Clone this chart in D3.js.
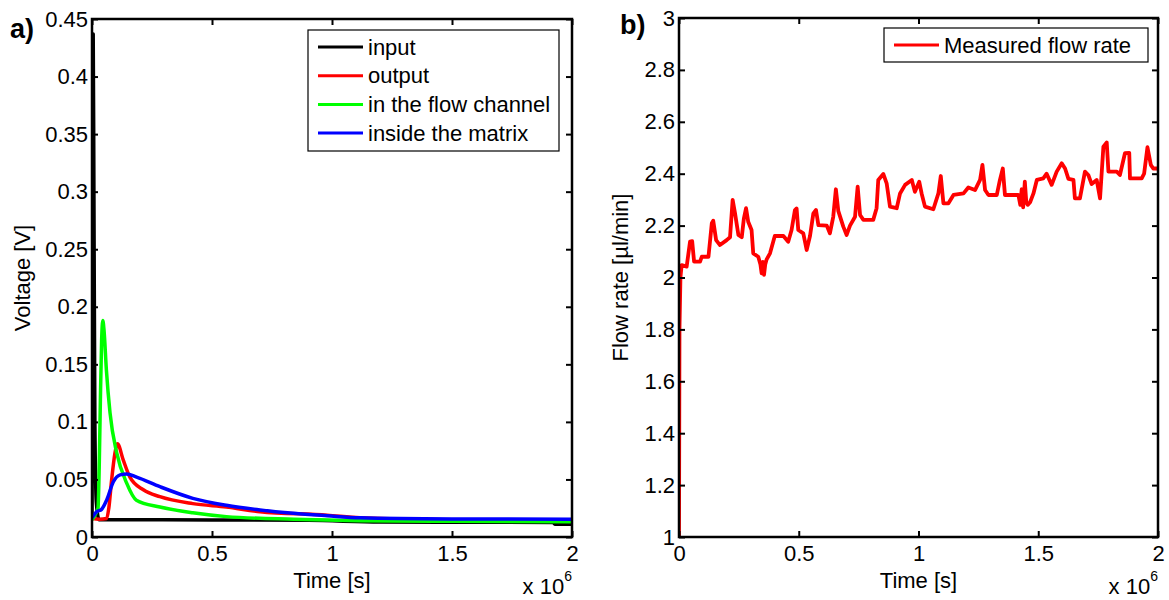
<!DOCTYPE html>
<html>
<head>
<meta charset="utf-8">
<script src="https://cdn.jsdelivr.net/npm/d3@7"></script>
<style>
  body { margin: 0; background: #fff; }
  svg { display: block; font-family: "Liberation Sans", Arial, sans-serif; }
</style>
</head>
<body>
<svg id="chart" width="1169" height="600"></svg>
<script>
// ---- data (time in units of 10^6 s) ----
var inputPts = [[0,0.015],[0.003,0.2],[0.005,0.437],[0.008,0.3],[0.012,0.1],[0.018,0.03],[0.03,0.015],
  [0.5,0.0148],[0.9,0.0145],[1.2,0.013],[1.6,0.0128],[1.92,0.0126],[1.93,0.011],[2,0.011]];
var outputPts = [[0,0.016],[0.03,0.0155],[0.061,0.016],[0.07,0.025],[0.082,0.05],[0.095,0.072],[0.106,0.081],
  [0.13,0.067],[0.158,0.052],[0.214,0.041],[0.283,0.035],[0.42,0.029],[0.56,0.026],[0.7,0.022],
  [0.98,0.019],[1.117,0.0167],[1.5,0.015],[2,0.014]];
var channelPts = [[0,0.015],[0.015,0.02],[0.025,0.025],[0.03,0.06],[0.035,0.12],[0.04,0.17],[0.045,0.188],
  [0.05,0.18],[0.06,0.145],[0.075,0.108],[0.103,0.073],[0.144,0.047],[0.185,0.032],[0.283,0.026],
  [0.42,0.021],[0.56,0.0177],[0.84,0.0154],[1.117,0.0142],[1.5,0.0136],[2,0.0133]];
var matrixPts = [[0,0.0167],[0.02,0.022],[0.04,0.024],[0.061,0.032],[0.089,0.048],[0.117,0.054],
  [0.144,0.0547],[0.186,0.052],[0.283,0.0437],[0.42,0.0336],[0.56,0.0275],[0.7,0.0235],
  [0.84,0.0206],[0.98,0.0185],[1.117,0.0167],[1.5,0.0157],[2,0.0154]];

var flowT = [0,0.002,0.006,0.011,0.032,0.046,0.055,0.063,0.088,0.095,0.123,0.137,0.143,0.155,0.171,0.199,
  0.213,0.224,0.234,0.248,0.262,0.271,0.28,0.289,0.303,0.31,0.331,0.34,0.345,0.35,0.355,0.36,0.366,0.38,
  0.4,0.436,0.456,0.47,0.484,0.491,0.498,0.519,0.533,0.547,0.561,0.572,0.582,0.617,0.63,0.644,0.655,
  0.665,0.686,0.7,0.714,0.735,0.746,0.756,0.77,0.811,0.825,0.832,0.853,0.867,0.881,0.909,0.923,0.944,
  0.972,0.985,1.003,1.013,1.027,1.062,1.083,1.093,1.104,1.125,1.146,1.188,1.208,1.236,1.257,1.267,
  1.278,1.292,1.327,1.34,1.352,1.361,1.417,1.425,1.431,1.437,1.444,1.45,1.456,1.466,1.48,1.494,1.521,
  1.535,1.556,1.577,1.598,1.612,1.626,1.647,1.653,1.674,1.695,1.709,1.723,1.744,1.758,1.772,1.786,
  1.793,1.828,1.841,1.862,1.88,1.883,1.932,1.942,1.956,1.97,1.98,2.0];
var flowV = [1.0,1.8,2.0,2.048,2.042,2.138,2.14,2.061,2.061,2.08,2.08,2.209,2.219,2.144,2.125,2.144,
  2.155,2.299,2.247,2.164,2.155,2.228,2.267,2.215,2.183,2.093,2.08,2.05,2.016,2.06,2.01,2.05,2.07,2.093,
  2.16,2.16,2.138,2.183,2.26,2.266,2.183,2.17,2.106,2.16,2.247,2.26,2.202,2.2,2.17,2.234,2.34,
  2.257,2.196,2.164,2.2,2.234,2.35,2.241,2.222,2.222,2.267,2.376,2.399,2.363,2.273,2.267,2.324,2.357,
  2.376,2.33,2.369,2.324,2.273,2.263,2.324,2.391,2.286,2.286,2.318,2.324,2.347,2.337,2.376,2.434,
  2.337,2.318,2.318,2.376,2.42,2.318,2.318,2.28,2.34,2.27,2.369,2.29,2.28,2.29,2.324,2.376,2.382,
  2.4,2.357,2.408,2.44,2.42,2.38,2.376,2.305,2.305,2.408,2.395,2.36,2.376,2.305,2.504,2.52,
  2.408,2.408,2.395,2.479,2.48,2.382,2.382,2.4,2.502,2.434,2.42,2.42];

var leftSeries = [
  {name: 'input', color: '#000000', pts: inputPts},
  {name: 'output', color: '#ff0000', pts: outputPts},
  {name: 'in the flow channel', color: '#00ff00', pts: channelPts},
  {name: 'inside the matrix', color: '#0000ff', pts: matrixPts}
];
var xTicks = [0, 0.5, 1, 1.5, 2];
var leftYTicks = [0,0.05,0.1,0.15,0.2,0.25,0.3,0.35,0.4,0.45];
var rightYTicks = [1,1.2,1.4,1.6,1.8,2,2.2,2.4,2.6,2.8,3];

var svg = d3.select('#chart'),
    fontSize = 22,
    tickLen = 6;

function drawPanel(opt) {
  var g = svg.append('g');
  var x = d3.scaleLinear().domain([0, 2]).range([opt.left, opt.right]);
  var y = d3.scaleLinear().domain(opt.yDomain).range([opt.bottom, opt.top]);

  var clipId = 'clip' + opt.id;
  g.append('clipPath').attr('id', clipId).append('rect')
    .attr('x', opt.left).attr('y', opt.top)
    .attr('width', opt.right - opt.left).attr('height', opt.bottom - opt.top);

  var plot = g.append('g').attr('clip-path', 'url(#' + clipId + ')');
  opt.draw(plot, x, y);

  // axes, MATLAB style: ticks inward on all sides
  var fmt = d3.format('~g');
  var axB = g.append('g').attr('transform', 'translate(0,' + opt.bottom + ')')
    .call(d3.axisBottom(x).tickValues(xTicks).tickFormat(fmt).tickSizeInner(-tickLen).tickSizeOuter(0).tickPadding(8));
  var axT = g.append('g').attr('transform', 'translate(0,' + opt.top + ')')
    .call(d3.axisTop(x).tickValues(xTicks).tickFormat('').tickSizeInner(-tickLen).tickSizeOuter(0));
  var axL = g.append('g').attr('transform', 'translate(' + opt.left + ',0)')
    .call(d3.axisLeft(y).tickValues(opt.yTicks).tickFormat(fmt).tickSizeInner(-tickLen).tickSizeOuter(0).tickPadding(4));
  var axR = g.append('g').attr('transform', 'translate(' + opt.right + ',0)')
    .call(d3.axisRight(y).tickValues(opt.yTicks).tickFormat('').tickSizeInner(-tickLen).tickSizeOuter(0));

  [axB, axT, axL, axR].forEach(function(a) {
    a.selectAll('.domain').remove();
    a.selectAll('line').attr('stroke', '#000').attr('stroke-width', 2);
    a.selectAll('text').attr('fill', '#000').attr('font-size', fontSize).attr('font-family', null);
  });
  axB.selectAll('text').attr('dy', '0.71em');

  g.append('rect')
    .attr('x', opt.left).attr('y', opt.top)
    .attr('width', opt.right - opt.left).attr('height', opt.bottom - opt.top)
    .attr('fill', 'none').attr('stroke', '#000').attr('stroke-width', 2.5);

  // labels
  g.append('text').attr('x', (opt.left + opt.right) / 2).attr('y', 588)
    .attr('text-anchor', 'middle').attr('font-size', fontSize).text('Time [s]');
  g.append('text')
    .attr('transform', 'translate(' + opt.yLabelX + ',' + ((opt.top + opt.bottom) / 2) + ') rotate(-90)')
    .attr('text-anchor', 'middle').attr('font-size', fontSize).text(opt.yLabel);
  var ex = g.append('text').attr('x', opt.right).attr('y', 594).attr('text-anchor', 'end').attr('font-size', fontSize);
  ex.append('tspan').text('x 10');
  ex.append('tspan').attr('font-size', 14).attr('dy', -13).text('6');
  g.append('text').attr('x', opt.tagX).attr('y', opt.tagY)
    .attr('font-size', 27).attr('font-weight', 'bold').text(opt.tag);

  // legend
  var lg = g.append('g');
  lg.append('rect').attr('x', opt.legend.x).attr('y', opt.legend.y)
    .attr('width', opt.legend.w).attr('height', opt.legend.h)
    .attr('fill', '#fff').attr('stroke', '#000').attr('stroke-width', 1.2);
  opt.legend.items.forEach(function(it, i) {
    var cy = opt.legend.y + 17 + i * 28.7;
    lg.append('line').attr('x1', opt.legend.x + 10).attr('x2', opt.legend.x + 55)
      .attr('y1', cy).attr('y2', cy).attr('stroke', it.color).attr('stroke-width', 3);
    lg.append('text').attr('x', opt.legend.x + 60).attr('y', cy).attr('dy', '0.35em')
      .attr('font-size', fontSize).text(it.name);
  });
}

drawPanel({
  id: 'a', left: 92, right: 572, top: 19, bottom: 537,
  yDomain: [0, 0.45], yTicks: leftYTicks, yLabel: 'Voltage [V]', yLabelX: 30,
  tag: 'a)', tagX: 10, tagY: 38,
  legend: {x: 308, y: 30, w: 251, h: 121, items: leftSeries},
  draw: function(plot, x, y) {
    var line = d3.line().x(function(d) { return x(d[0]); }).y(function(d) { return y(d[1]); })
      .curve(d3.curveMonotoneX);
    leftSeries.forEach(function(s) {
      plot.append('path').datum(s.pts).attr('d', line)
        .attr('fill', 'none').attr('stroke', s.color).attr('stroke-width', 3.5)
        .attr('stroke-linejoin', 'round');
    });
  }
});

drawPanel({
  id: 'b', left: 679, right: 1158, top: 18, bottom: 537,
  yDomain: [1, 3], yTicks: rightYTicks, yLabel: 'Flow rate [\u00b5l/min]', yLabelX: 628,
  tag: 'b)', tagX: 620, tagY: 34,
  legend: {x: 884, y: 28, w: 264, h: 34, items: [{name: 'Measured flow rate', color: '#ff0000'}]},
  draw: function(plot, x, y) {
    var line = d3.line().x(function(d, i) { return x(flowT[i]); }).y(function(d) { return y(d); });
    plot.append('path').datum(flowV).attr('d', line)
      .attr('fill', 'none').attr('stroke', '#ff0000').attr('stroke-width', 3.8)
      .attr('stroke-linejoin', 'round');
  }
});
</script>
</body>
</html>
